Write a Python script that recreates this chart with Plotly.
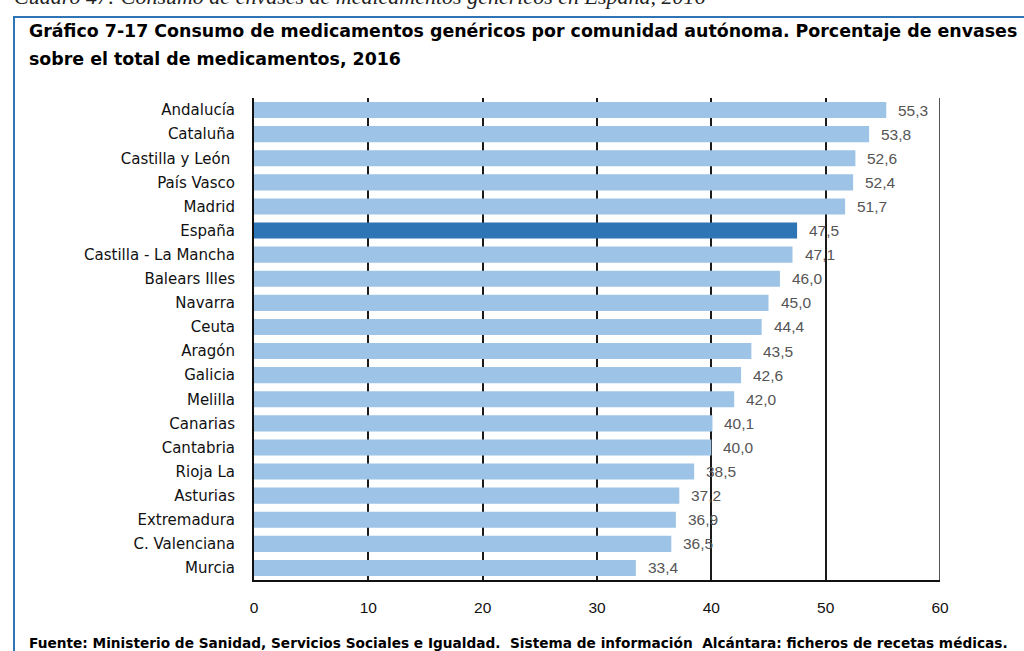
import plotly.graph_objects as go

# Generic medicines share of packages by autonomous community, 2016 (%)
regions = [
    "Andalucía", "Cataluña", "Castilla y León ", "País Vasco", "Madrid",
    "España", "Castilla - La Mancha", "Balears Illes", "Navarra", "Ceuta",
    "Aragón", "Galicia", "Melilla", "Canarias", "Cantabria", "Rioja La",
    "Asturias", "Extremadura", "C. Valenciana", "Murcia",
]
shares = [
    55.3, 53.8, 52.6, 52.4, 51.7,
    47.5, 47.1, 46.0, 45.0, 44.4,
    43.5, 42.6, 42.0, 40.1, 40.0, 38.5,
    37.2, 36.9, 36.5, 33.4,
]
x_ticks = [0, 10, 20, 30, 40, 50, 60]

LIGHT = "#9DC3E6"
DARK = "#2E75B6"
colors = [DARK if r == "España" else LIGHT for r in regions]

W, H = 1024, 651
L, R, T, B = 254, 84, 98, 71
plot_w = W - L - R
plot_h = H - T - B


def px_x(px):
    return (px - L) / plot_w


def px_y(py):
    return (H - B - py) / plot_h


sans = "Liberation Sans, Arial, sans-serif"
wide = "DejaVu Sans, Verdana, sans-serif"

fig = go.Figure()
fig.add_trace(go.Bar(
    y=regions,
    x=shares,
    orientation="h",
    marker=dict(color=colors, line=dict(width=0)),
    hoverinfo="skip",
))

# value labels to the right of each bar, with decimal comma
for r, v in zip(regions, shares):
    fig.add_annotation(
        x=v, y=r, xref="x", yref="y",
        text=f"{v:.1f}".replace(".", ","),
        showarrow=False, xanchor="left", xshift=10,
        font=dict(family=sans, size=15.5, color="#555555"),
    )

# running caption above the framed chart
fig.add_annotation(
    x=px_x(12), y=px_y(-4), xref="paper", yref="paper",
    text="Cuadro 47: Consumo de envases de medicamentos genéricos en España, 2016",
    showarrow=False, xanchor="left", yanchor="middle",
    font=dict(family="Liberation Serif, serif", size=22, color="#222222", style="italic"),
)

# chart title, two lines
fig.add_annotation(
    x=px_x(27), y=px_y(31), xref="paper", yref="paper",
    text="<b>Gráfico 7-17 Consumo de medicamentos genéricos por comunidad autónoma. Porcentaje de envases</b>",
    showarrow=False, xanchor="left", yanchor="middle",
    font=dict(family=wide, size=17.4, color="#000000"),
)
fig.add_annotation(
    x=px_x(27), y=px_y(59), xref="paper", yref="paper",
    text="<b>sobre el total de medicamentos, 2016</b>",
    showarrow=False, xanchor="left", yanchor="middle",
    font=dict(family=wide, size=17.4, color="#000000"),
)

# source note
fig.add_annotation(
    x=px_x(27), y=px_y(643), xref="paper", yref="paper",
    text="<b>Fuente: Ministerio de Sanidad, Servicios Sociales e Igualdad.  Sistema de información  Alcántara: ficheros de recetas médicas.</b>",
    showarrow=False, xanchor="left", yanchor="middle",
    font=dict(family=wide, size=13.7, color="#000000"),
)

# blue frame around the chart panel
fig.add_shape(
    type="rect", xref="paper", yref="paper",
    x0=px_x(14), x1=px_x(1040), y0=px_y(17), y1=px_y(670),
    line=dict(color="#2F75B5", width=2), fillcolor="rgba(0,0,0,0)", layer="below",
)

# right-hand border of the plotting area at 60
fig.add_shape(
    type="line", xref="x", yref="paper",
    x0=60, x1=60, y0=0, y1=1,
    line=dict(color="#1a1a1a", width=1.5), layer="below",
)

fig.update_layout(
    width=W, height=H,
    margin=dict(l=L, r=R, t=T, b=B, pad=0),
    paper_bgcolor="white", plot_bgcolor="white",
    showlegend=False,
    bargap=0.33,
)
fig.update_xaxes(
    range=[0, 60],
    tickvals=x_ticks,
    ticktext=[str(t) for t in x_ticks],
    showgrid=True, gridcolor="#1a1a1a", gridwidth=1.5,
    zeroline=False,
    showline=True, linecolor="#111111", linewidth=2,
    ticks="", ticklabelstandoff=12,
    tickfont=dict(family=sans, size=15.5, color="#111111"),
    fixedrange=True,
)
fig.update_yaxes(
    categoryorder="array", categoryarray=regions,
    autorange="reversed",
    showgrid=False, zeroline=False,
    showline=True, linecolor="#111111", linewidth=2,
    ticks="", ticklabelstandoff=14,
    tickfont=dict(family=wide, size=15, color="#111111"),
    fixedrange=True,
)

fig.write_html("out.html")
